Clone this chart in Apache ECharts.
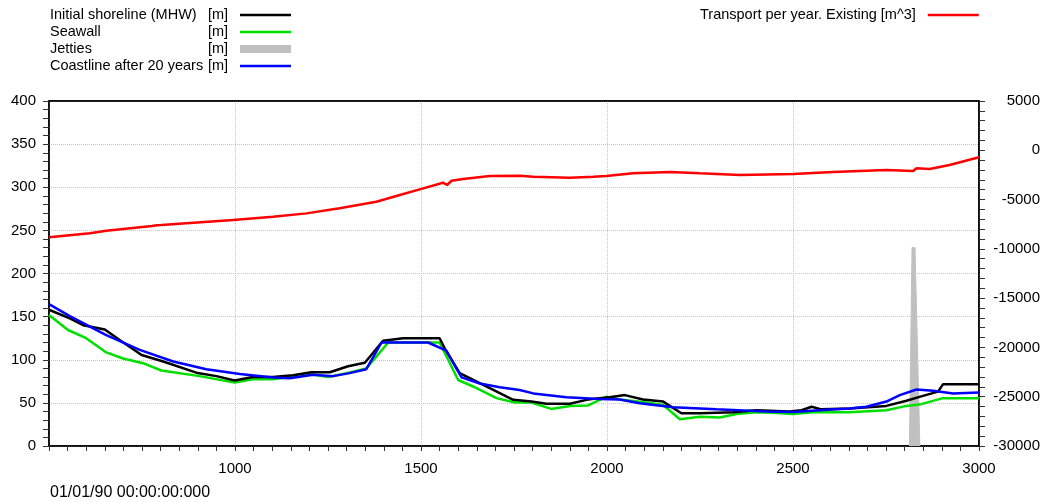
<!DOCTYPE html>
<html>
<head>
<meta charset="utf-8">
<title>Shoreline evolution</title>
<script src="https://cdn.jsdelivr.net/npm/echarts@6.0.0/dist/echarts.min.js"></script>
<style>
  html, body { margin: 0; padding: 0; background: #fff; }
  #chart { width: 1044px; height: 502px; }
</style>
</head>
<body>
<div id="chart"></div>
<script>
// chainage [m] vs shoreline position [m]
const shoreline = [
  [500, 158], [556, 148], [592, 140], [650, 135], [690, 123], [749, 105.5],
  [807, 98], [896, 85], [950, 81], [999, 76], [1048, 80], [1102, 80],
  [1156, 82], [1205, 85.5], [1255, 85.5], [1304, 92.5], [1349, 96.5],
  [1398, 122], [1452, 125], [1550, 125], [1564, 113], [1604, 84.5],
  [1685, 67], [1748, 53.5], [1797, 51.5], [1837, 49], [1900, 49],
  [1945, 53.5], [1980, 55.5], [2007, 56.5], [2048, 59], [2097, 54],
  [2151, 51.5], [2200, 38], [2250, 38], [2340, 39], [2402, 41.5],
  [2491, 40], [2523, 41.5], [2550, 45.5], [2576, 42.5], [2652, 43.5],
  [2751, 46.5], [2805, 52.5], [2840, 57], [2890, 63], [2903, 71.5], [3000, 71.5]
];
const seawall = [
  [500, 152], [551, 134.5], [600, 125], [654, 108.5], [699, 101.5], [753, 96],
  [802, 87.5], [905, 81], [999, 73.5], [1048, 77.5], [1102, 77.5], [1156, 80.5],
  [1201, 83.5], [1250, 80], [1300, 84.5], [1353, 90], [1412, 120], [1550, 120],
  [1600, 76.5], [1640, 69], [1703, 55.5], [1752, 50.5], [1797, 50.5],
  [1850, 43], [1900, 46.5], [1949, 47], [1998, 57], [2034, 54], [2106, 50.5],
  [2151, 47.5], [2196, 31], [2250, 34], [2303, 33], [2348, 37], [2402, 39],
  [2446, 38.5], [2500, 37], [2554, 39], [2652, 39], [2751, 41.5], [2805, 46.5],
  [2845, 48.5], [2903, 55.5], [3000, 55.5]
];
const jetties = [[2813, 0], [2820, 230], [2828, 230], [2841, 0]];
const coastline20 = [
  [500, 164.5], [556, 150.5], [610, 138.5], [654, 128.5], [744, 111.5],
  [834, 98], [923, 89], [1013, 83.5], [1102, 79.5], [1147, 78.5], [1210, 82.5],
  [1264, 81], [1308, 84.5], [1353, 89], [1394, 120], [1519, 120], [1568, 110.5],
  [1609, 79.5], [1658, 72.5], [1712, 68], [1765, 65], [1802, 61], [1891, 56.5],
  [1980, 54.5], [2034, 54], [2088, 49.5], [2178, 45], [2294, 42.5], [2428, 40],
  [2500, 39.5], [2571, 41.5], [2652, 43.5], [2697, 45.5], [2751, 51.5],
  [2787, 59], [2832, 65.5], [2877, 64], [2930, 61], [3000, 62]
];
// transport [m^3/year], right axis
const transport = [
  [500, -8830], [610, -8420], [654, -8160], [777, -7690], [782, -7850],
  [790, -7600], [802, -7580], [995, -7070], [1102, -6740], [1192, -6400],
  [1281, -5890], [1380, -5220], [1443, -4540], [1506, -3860], [1559, -3290],
  [1570, -3520], [1582, -3090], [1613, -2910], [1685, -2610], [1766, -2580],
  [1802, -2680], [1900, -2780], [1963, -2680], [1998, -2610], [2070, -2340],
  [2169, -2200], [2250, -2340], [2357, -2510], [2500, -2410], [2608, -2200],
  [2751, -2000], [2823, -2100], [2832, -1830], [2867, -1900], [2921, -1490],
  [3000, -710]
];
const leftLegendNames = ['Initial shoreline (MHW)', 'Seawall', 'Jetties', 'Coastline after 20 years'];
const rightLegendNames = ['Transport per year. Existing [m^3]'];

const FONT = "'Liberation Sans', Arial, sans-serif";
const LINE_ICON = 'path://M0,0H51V2.5H0Z';
const GRID_BLUE = '#a9cdf2';
const chart = echarts.init(document.getElementById('chart'), null, { renderer: 'canvas' });

const lineSeries = (name, data, color, yAxisIndex, z) => ({
  name, type: 'line', data, yAxisIndex, z,
  symbol: 'none', showSymbol: false, silent: true,
  lineStyle: { color, width: 2.5 },
  itemStyle: { color }
});
const plainNumber = v => String(v);

chart.setOption({
  animation: false,
  textStyle: { fontFamily: FONT },
  grid: {
    left: 49, right: 65, top: 101, bottom: 56,
    show: true, borderColor: '#000', borderWidth: 1.5, backgroundColor: '#fff'
  },
  legend: [
    {
      data: [
        { name: leftLegendNames[0], icon: LINE_ICON },
        { name: leftLegendNames[1], icon: LINE_ICON },
        { name: leftLegendNames[2], icon: 'rect' },
        { name: leftLegendNames[3], icon: LINE_ICON }
      ],
      orient: 'vertical', left: 50, top: 7, align: 'right', padding: 0,
      itemWidth: 51, itemHeight: 8, itemGap: 1,
      selectedMode: false,
      formatter: name => '{n|' + name + '}{u|[m]}',
      textStyle: {
        fontFamily: FONT, fontSize: 14.5, color: '#000', lineHeight: 16,
        rich: {
          n: { width: 158, align: 'left', fontSize: 14.5, fontFamily: FONT, color: '#000' },
          u: { width: 27, align: 'left', fontSize: 14.5, fontFamily: FONT, color: '#000' }
        }
      }
    },
    {
      data: [{ name: rightLegendNames[0], icon: LINE_ICON }],
      orient: 'vertical', left: 700, top: 7, align: 'right', padding: 0,
      itemWidth: 51, itemHeight: 8, itemGap: 1,
      selectedMode: false,
      formatter: name => '{n|' + name + '}',
      textStyle: {
        fontFamily: FONT, fontSize: 14.5, color: '#000', lineHeight: 16,
        rich: { n: { fontSize: 14.5, fontFamily: FONT, color: '#000', padding: [0, 7, 0, 0] } }
      }
    }
  ],
  title: {
    text: '01/01/90 00:00:00:000',
    left: 50, top: 485, padding: 0,
    textStyle: { fontFamily: FONT, fontSize: 16, fontWeight: 'normal', color: '#000' }
  },
  xAxis: [
    {
      type: 'value', min: 500, max: 3000, interval: 500, position: 'bottom',
      axisLine: { onZero: false, lineStyle: { color: '#000', width: 1.5 } },
      axisTick: { length: 5, lineStyle: { color: '#333' } },
      minorTick: { show: true, splitNumber: 10, length: 5, lineStyle: { color: '#333' } },
      axisLabel: { showMinLabel: false, fontSize: 15, color: '#000', margin: 15, fontFamily: FONT, formatter: plainNumber },
      splitLine: { show: true, lineStyle: { color: GRID_BLUE, type: 'dotted', width: 1 } }
    },
    {
      // top frame line only
      type: 'value', min: 500, max: 3000, position: 'top',
      axisLine: { show: true, onZero: false, lineStyle: { color: '#000', width: 1.5 } },
      axisTick: { show: false }, axisLabel: { show: false }, splitLine: { show: false }
    }
  ],
  yAxis: [
    {
      type: 'value', min: 0, max: 400, interval: 50, position: 'left',
      axisLine: { show: true, onZero: false, lineStyle: { color: '#000', width: 1.5 } },
      axisTick: { show: true, length: 6, lineStyle: { color: '#333' } },
      minorTick: { show: true, splitNumber: 5, length: 6, lineStyle: { color: '#333' } },
      axisLabel: { fontSize: 15, color: '#000', margin: 13, fontFamily: FONT, formatter: plainNumber },
      splitLine: { show: true, lineStyle: { color: GRID_BLUE, type: 'dotted', width: 1 } }
    },
    {
      type: 'value', min: -30000, max: 5000, interval: 5000, position: 'right',
      axisLine: { show: true, onZero: false, lineStyle: { color: '#000', width: 1.5 } },
      axisTick: { show: true, length: 6, lineStyle: { color: '#333' } },
      minorTick: { show: true, splitNumber: 5, length: 6, lineStyle: { color: '#333' } },
      axisLabel: { fontSize: 15, color: '#000', margin: 61, align: 'right', fontFamily: FONT, formatter: plainNumber },
      splitLine: { show: false }
    }
  ],
  series: [
    {
      name: leftLegendNames[2], type: 'line', data: jetties, yAxisIndex: 0, z: 1,
      symbol: 'none', showSymbol: false, silent: true,
      lineStyle: { color: '#c0c0c0', width: 1 },
      itemStyle: { color: '#c0c0c0' },
      areaStyle: { color: '#c0c0c0', opacity: 1 }
    },
    lineSeries(leftLegendNames[1], seawall, '#00e000', 0, 2),
    lineSeries(leftLegendNames[0], shoreline, '#000000', 0, 3),
    lineSeries(leftLegendNames[3], coastline20, '#0000ff', 0, 4),
    lineSeries(rightLegendNames[0], transport, '#ff0000', 1, 5)
  ]
});
</script>
</body>
</html>
